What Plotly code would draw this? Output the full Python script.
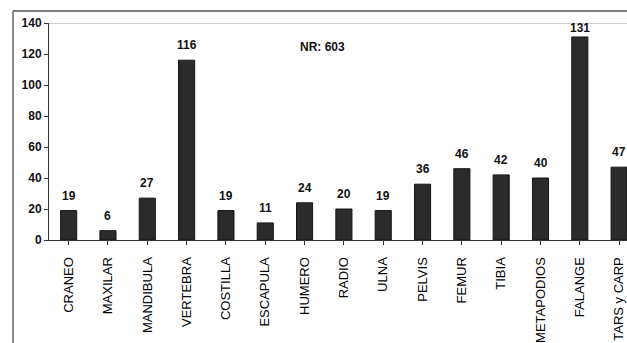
import plotly.graph_objects as go

# Skeletal elements and their counts (NR: 603)
elementos = ["CRANEO", "MAXILAR", "MANDIBULA", "VERTEBRA", "COSTILLA", "ESCAPULA",
             "HUMERO", "RADIO", "ULNA", "PELVIS", "FEMUR", "TIBIA", "METAPODIOS",
             "FALANGE", "TARS y CARP"]
conteos = [19, 6, 27, 116, 19, 11, 24, 20, 19, 36, 46, 42, 40, 131, 47]
y_ticks = [0, 20, 40, 60, 80, 100, 120, 140]
total_label = "NR: 603"

W, H = 627, 343
ML, MT, MB = 49, 23, 103
plot_h = H - MT - MB
px_per_unit = plot_h / 140.0

font_family = "Arial, Liberation Sans, sans-serif"

fig = go.Figure()
fig.add_trace(go.Bar(
    x=list(range(len(elementos))),
    y=conteos,
    marker=dict(color="#2b2b2b", line=dict(color="#151515", width=1)),
    hoverinfo="x+y",
))

# value labels above each bar, kept inside the frame for the tallest bars
for i, v in enumerate(conteos):
    shift = min(15, (136.8 - v) * px_per_unit)
    fig.add_annotation(x=i, y=v, text="<b>%d</b>" % v, showarrow=False,
                       yanchor="middle", yshift=shift,
                       font=dict(family=font_family, size=12, color="#111"),
                       xref="x", yref="y")

fig.add_annotation(x=0.4735, y=0.931, xref="paper", yref="paper", text="<b>" + total_label + "</b>",
                   showarrow=False, font=dict(family=font_family, size=12, color="#111"))

# outer frame (left and top) and top line of the plot area
fx = (13 - ML) / (W - ML)
fy = (H - MB - 11) / plot_h
fig.add_shape(type="line", xref="paper", yref="paper", x0=fx, x1=fx, y0=fy, y1=-MB / plot_h,
              line=dict(color="#666", width=1.5))
fig.add_shape(type="line", xref="paper", yref="paper", x0=fx, x1=1.02, y0=fy, y1=fy,
              line=dict(color="#555", width=1.5))
fig.add_shape(type="line", xref="paper", yref="y", x0=0, x1=1, y0=140, y1=140,
              line=dict(color="#999", width=1))

fig.update_layout(
    width=W, height=H,
    margin=dict(l=ML, r=0, t=MT, b=MB, autoexpand=False),
    paper_bgcolor="white", plot_bgcolor="white",
    bargap=0.59,
    showlegend=False,
    font=dict(family=font_family, color="#111"),
    xaxis=dict(
        range=[-0.5, 14.2],
        tickmode="array",
        tickvals=list(range(len(elementos))),
        ticktext=elementos,
        tickangle=-90,
        tickfont=dict(size=13, color="#000"),
        showline=True, linecolor="#333", linewidth=1,
        ticks="outside", ticklen=4, tickcolor="#333",
        tickson="boundaries",
        ticklabelstandoff=7,
        showgrid=False, zeroline=False,
        fixedrange=True,
    ),
    yaxis=dict(
        range=[0, 140],
        tickmode="array",
        tickvals=y_ticks,
        ticktext=["<b>%d</b>" % t for t in y_ticks],
        tickfont=dict(size=12, color="#111"),
        showline=True, linecolor="#333", linewidth=1,
        ticks="outside", ticklen=4, tickcolor="#333",
        showgrid=False, zeroline=False,
        fixedrange=True,
    ),
)

fig.write_html("out.html")
